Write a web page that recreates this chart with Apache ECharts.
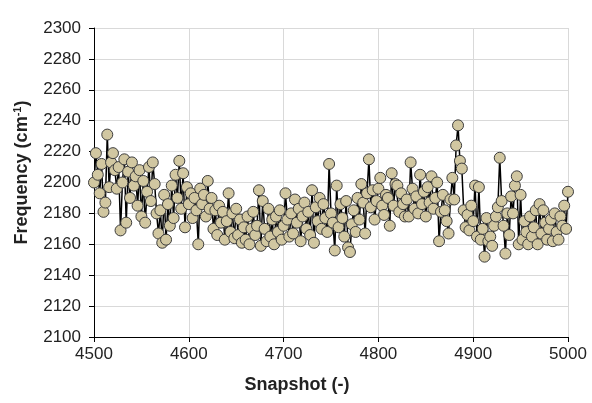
<!DOCTYPE html>
<html>
<head>
<meta charset="utf-8">
<script src="https://cdn.jsdelivr.net/npm/echarts@6/dist/echarts.min.js"></script>
<style>
html, body { margin: 0; padding: 0; background: #fff; }
#chart { width: 592px; height: 403px; }
</style>
</head>
<body>
<div id="chart"></div>
<script>
// snapshot index starts here, one reading every 2 snapshots
var snapStart = 4500;
var snapStep = 2;
var xTicks = [4500, 4600, 4700, 4800, 4900, 5000];
var yTicks = [2100, 2120, 2140, 2160, 2180, 2200, 2220, 2240, 2260, 2280, 2300];

// frequency (cm-1)
var freq = [
	2200, 2219, 2205, 2193, 2212,
	2181, 2187, 2231, 2197, 2213,
	2219, 2208, 2196, 2210, 2169,
	2200, 2215, 2174, 2207, 2190,
	2213, 2198, 2204, 2185, 2208,
	2178, 2201, 2174, 2194, 2210,
	2188, 2213, 2199, 2180, 2167,
	2182, 2161, 2192, 2163, 2186,
	2172, 2198, 2177, 2205, 2190,
	2214, 2183, 2206, 2171, 2197,
	2186, 2193, 2177, 2190, 2182,
	2160, 2196, 2186, 2192, 2178,
	2201, 2183, 2190, 2170, 2182,
	2166, 2185, 2174, 2181, 2163,
	2175, 2193, 2168, 2180, 2164,
	2183, 2166, 2176, 2161, 2171,
	2163, 2178, 2160, 2170, 2181,
	2166, 2172, 2195, 2159, 2188,
	2170, 2162, 2183, 2165, 2176,
	2160, 2178, 2168, 2182, 2163,
	2172, 2193, 2176, 2165, 2180,
	2167, 2189, 2174, 2183, 2162,
	2178, 2187, 2170, 2181, 2166,
	2195, 2161, 2184, 2175, 2190,
	2170, 2186, 2177, 2168, 2212,
	2180, 2174, 2156, 2198, 2171,
	2186, 2177, 2165, 2188, 2158,
	2155, 2173, 2182, 2168, 2190,
	2176, 2199, 2187, 2167, 2193,
	2215, 2184, 2195, 2176, 2188,
	2196, 2203, 2185, 2179, 2192,
	2190, 2172, 2206, 2185, 2199,
	2198, 2181, 2193, 2186, 2178,
	2189, 2178, 2213, 2196, 2183,
	2191, 2180, 2205, 2186, 2194,
	2178, 2197, 2187, 2204, 2183,
	2190, 2200, 2162, 2181, 2192,
	2182, 2175, 2167, 2189, 2203,
	2189, 2224, 2237, 2214, 2209,
	2182, 2171, 2179, 2169, 2185,
	2175, 2198, 2165, 2197, 2163,
	2170, 2152, 2177, 2162, 2165,
	2159, 2172, 2178, 2184, 2216,
	2188, 2172, 2154, 2180, 2166,
	2191, 2180, 2198, 2204, 2160,
	2192, 2163, 2175, 2168, 2160,
	2178, 2165, 2171, 2182, 2160,
	2186, 2167, 2182, 2174, 2163,
	2170, 2176, 2162, 2180, 2168,
	2163, 2178, 2172, 2185, 2170,
	2194
];

var points = [];
for (var i = 0; i < freq.length; i++) {
	points.push([snapStart + i * snapStep, freq[i]]);
}

var labelColor = '#222';
var gridColor = '#d9d9d9';

var myChart = echarts.init(document.getElementById('chart'));
var option = {
	animation: false,
	textStyle: { fontFamily: 'Liberation Sans, Arial, sans-serif' },
	grid: { left: 94, right: 24, top: 28, bottom: 66 },
	xAxis: {
		type: 'value',
		min: xTicks[0],
		max: xTicks[xTicks.length - 1],
		interval: xTicks[1] - xTicks[0],
		name: 'Snapshot (-)',
		nameLocation: 'middle',
		nameGap: 39,
		nameTextStyle: {
			color: labelColor,
			fontSize: 18,
			fontWeight: 'bold',
			padding: [0, 68, 0, 0]
		},
		axisLine: { lineStyle: { color: '#000', width: 1 } },
		axisTick: { show: true, length: 5, lineStyle: { color: '#000' } },
		axisLabel: {
			color: labelColor,
			fontSize: 17,
			margin: 9,
			formatter: function (v) { return String(v); }
		},
		splitLine: { show: true, lineStyle: { color: gridColor, width: 1 } }
	},
	yAxis: {
		type: 'value',
		min: yTicks[0],
		max: yTicks[yTicks.length - 1],
		interval: yTicks[1] - yTicks[0],
		name: 'Frequency (cm{sup|-1})',
		nameLocation: 'middle',
		nameGap: 55,
		nameTextStyle: {
			color: labelColor,
			fontSize: 18,
			fontWeight: 'bold',
			lineHeight: 20,
			padding: [0, 0, 0, 20],
			rich: {
				sup: {
					color: labelColor,
					fontSize: 11,
					fontWeight: 'bold',
					verticalAlign: 'top',
					lineHeight: 20
				}
			}
		},
		axisLine: { show: true, lineStyle: { color: '#000', width: 1 } },
		axisTick: { show: true, length: 5, lineStyle: { color: '#000' } },
		axisLabel: {
			color: labelColor,
			fontSize: 17,
			margin: 13,
			formatter: function (v) { return String(v); }
		},
		splitLine: { show: true, lineStyle: { color: gridColor, width: 1 } }
	},
	series: [{
		type: 'line',
		data: points,
		showAllSymbol: true,
		symbol: 'circle',
		symbolSize: 11,
		lineStyle: { color: '#000', width: 1.5 },
		itemStyle: { color: '#d1c7a1', borderColor: '#3b3b3b', borderWidth: 1 }
	}]
};
myChart.setOption(option);
</script>
</body>
</html>
